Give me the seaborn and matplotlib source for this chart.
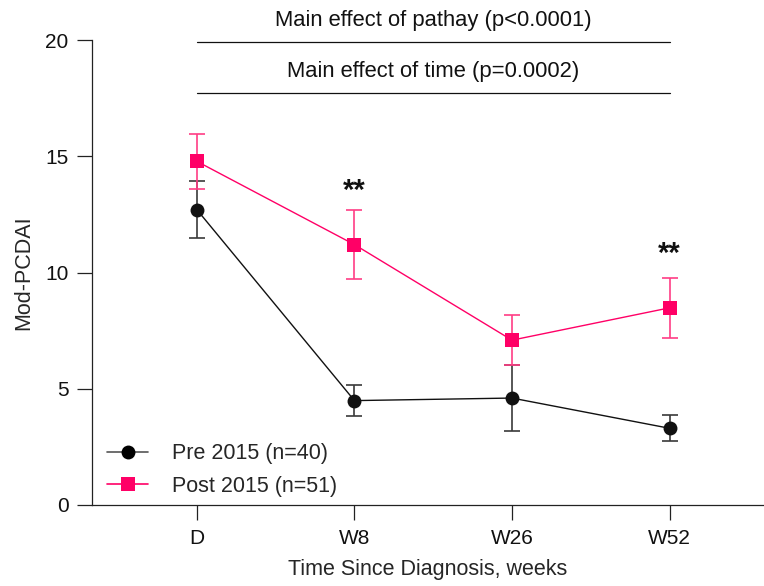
import matplotlib
matplotlib.use("Agg")
import matplotlib.pyplot as plt
import seaborn as sns
import pandas as pd
import numpy as np
from matplotlib.lines import Line2D

# ---- data ----
timepoints = ["D", "W8", "W26", "W52"]
pre_mean = [12.70, 4.49, 4.60, 3.30]
pre_err = [1.23, 0.67, 1.42, 0.55]
post_mean = [14.78, 11.20, 7.09, 8.48]
post_err = [1.18, 1.49, 1.08, 1.29]
series_names = ["Pre 2015 (n=40)", "Post 2015 (n=51)"]
star_labels = ["**", "**"]
star_times = ["W8", "W52"]
star_heights = [13.5, 10.8]
effect_texts = ["Main effect of pathay (p<0.0001)", "Main effect of time (p=0.0002)"]
effect_line_y = [19.9, 17.7]

PINK = "#FF0066"
PINK_ERR = "#FF3D85"
BLACK = "#111111"
GRAY_ERR = "#3A3A3A"

sns.set_theme(style="ticks")
plt.rcParams["font.family"] = ["Liberation Sans", "DejaVu Sans"]

fig = plt.figure(figsize=(7.64, 5.86), dpi=100)
ax = fig.add_axes([92 / 764, 81 / 586, 1 - 92 / 764 - 0.001, (505 - 40) / 586])

xpos = np.arange(len(timepoints))
df = pd.DataFrame({
    "x": np.concatenate([xpos, xpos]),
    "y": pre_mean + post_mean,
    "group": [series_names[0]] * 4 + [series_names[1]] * 4,
})

# error bars first (below markers)
ax.errorbar(xpos, pre_mean, yerr=pre_err, fmt="none", ecolor=GRAY_ERR,
            elinewidth=1.2, capsize=6, capthick=1.2, zorder=2)
ax.errorbar(xpos, post_mean, yerr=post_err, fmt="none", ecolor=PINK_ERR,
            elinewidth=1.2, capsize=6, capthick=1.2, zorder=2)

sns.lineplot(data=df, x="x", y="y", hue="group", style="group",
             palette={series_names[0]: BLACK, series_names[1]: PINK},
             markers={series_names[0]: "o", series_names[1]: "s"},
             dashes=False, markersize=10, markeredgewidth=0,
             linewidth=1.0, ax=ax, legend=False, zorder=3)

ax.set_xlim(-0.666, 3.595)
ax.set_ylim(0, 20)
ax.set_xticks(xpos)
ax.set_xticklabels(timepoints)
ax.set_yticks([0, 5, 10, 15, 20])
ax.tick_params(axis="both", length=11, width=0.9, labelsize=15, color="#222222",
               labelcolor="#111111", pad=6)
for side in ["top", "right"]:
    ax.spines[side].set_visible(False)
for side in ["left", "bottom"]:
    ax.spines[side].set_linewidth(0.9)
    ax.spines[side].set_color("#222222")

ax.set_xlabel("Time Since Diagnosis, weeks", fontsize=15.5, labelpad=8)
ax.set_ylabel("Mod-PCDAI", fontsize=15.5, labelpad=8)

# significance stars
for lab, t, h in zip(star_labels, star_times, star_heights):
    ax.text(timepoints.index(t), h, lab, ha="center", va="center",
            fontsize=21, fontweight="bold", color="#111111")

# main effect lines and texts
for txt, ly in zip(effect_texts, effect_line_y):
    ax.plot([0, 3], [ly, ly], color="#111111", linewidth=0.9, clip_on=False)
    ax.text(1.5, ly + 0.95, txt, ha="center", va="center", fontsize=15.8,
            color="#111111", clip_on=False)

handles = [
    Line2D([], [], color="#555555", linewidth=1.2, marker="o", markersize=10,
           markerfacecolor="black", markeredgewidth=0),
    Line2D([], [], color=PINK, linewidth=1.2, marker="s", markersize=10,
           markerfacecolor=PINK, markeredgewidth=0),
]
ax.legend(handles, series_names, loc="lower left", bbox_to_anchor=(0.0, -0.015),
          frameon=False, fontsize=15.5, handlelength=1.9, handletextpad=1.1,
          labelspacing=0.55, borderaxespad=0.3)

fig.savefig("out.png", dpi=100)
